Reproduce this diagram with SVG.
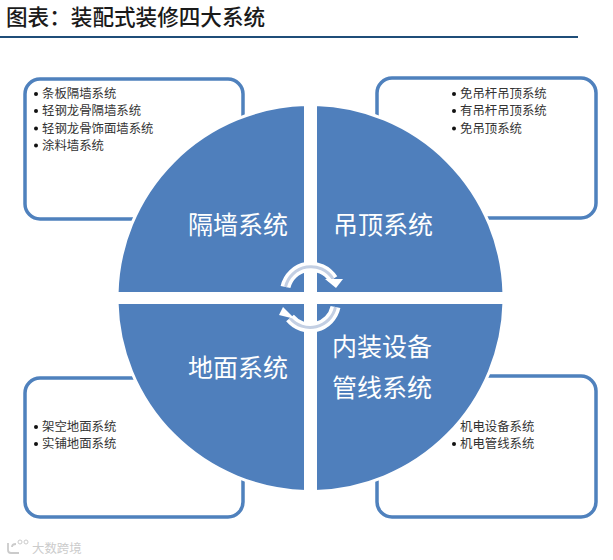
<svg xmlns="http://www.w3.org/2000/svg" width="613" height="560" viewBox="0 0 613 560">
<style>
text{font-family:"Noto Sans CJK SC","Noto Sans",sans-serif}
.box{fill:#fff;stroke:#4f81bd;stroke-width:3.5}
.wedge{fill:#4f7fbc;stroke:#fff;stroke-width:3}
.item{font-size:12.4px;fill:#333}
.big{font-size:25px;fill:#fff}
.dot{fill:#111}
.a1{fill:none;stroke:#fff;stroke-width:10}
.a2{fill:none;stroke:#c3cfe3;stroke-width:3}
.h{fill:#fff}
</style>
<rect width="613" height="560" fill="#fff"/>
<g id="title">
<text x="6" y="25" font-size="21.600" font-weight="500" fill="#1a1a1a">图表：装配式装修四大系统</text>
<rect x="0" y="36" width="578" height="2" fill="#1f4e79"/>
</g>
<g id="node-wall">
<rect class="box" x="25" y="79" width="218" height="140" rx="15"/>
<circle class="dot" cx="36" cy="94" r="2"/><circle class="dot" cx="36" cy="111" r="2"/><circle class="dot" cx="36" cy="128.500" r="2"/><circle class="dot" cx="36" cy="145.500" r="2"/>
<text class="item" x="42" y="98">条板隔墙系统</text>
<text class="item" x="42" y="115">轻钢龙骨隔墙系统</text>
<text class="item" x="42" y="132.500">轻钢龙骨饰面墙系统</text>
<text class="item" x="42" y="149.500">涂料墙系统</text>
<path class="wedge" d="M305.500 293.500H117.050A193.500 193.500 0 0 1 305.500 104.600Z"/>
<text class="big" x="188" y="234">隔墙系统</text>
</g>
<g id="node-ceiling">
<rect class="box" x="377" y="78" width="219" height="140" rx="15"/>
<circle class="dot" cx="454" cy="94" r="2"/><circle class="dot" cx="454" cy="111" r="2"/><circle class="dot" cx="454" cy="128.500" r="2"/>
<text class="item" x="460" y="98">免吊杆吊顶系统</text>
<text class="item" x="460" y="115">有吊杆吊顶系统</text>
<text class="item" x="460" y="132.500">免吊顶系统</text>
<path class="wedge" d="M315.500 293.500V104.600A193.500 193.500 0 0 1 503.950 293.500Z"/>
<text class="big" x="333" y="234">吊顶系统</text>
</g>
<g id="node-floor">
<rect class="box" x="25" y="378" width="218" height="139" rx="15"/>
<circle class="dot" cx="36" cy="427" r="2"/><circle class="dot" cx="36" cy="444" r="2"/>
<text class="item" x="42" y="431">架空地面系统</text>
<text class="item" x="42" y="448">实铺地面系统</text>
<path class="wedge" d="M305.500 302.500H117.050A193.500 193.500 0 0 0 305.500 491.400Z"/>
<text class="big" x="188" y="377">地面系统</text>
</g>
<g id="node-equipment">
<rect class="box" x="377" y="376" width="219" height="141" rx="15"/>
<circle class="dot" cx="454" cy="444" r="2"/>
<text class="item" x="460" y="431">机电设备系统</text>
<text class="item" x="460" y="448">机电管线系统</text>
<path class="wedge" d="M315.500 302.500V491.400A193.500 193.500 0 0 0 503.950 302.500Z"/>
<text class="big" x="332" y="356">内装设备</text>
<text class="big" x="332" y="397">管线系统</text>
</g>
<g id="connectors">
<path class="a1" d="M285.500 287A26 26 0 0 1 333 279"/>
<path class="a2" d="M285.500 287A26 26 0 0 1 333 279"/>
<path class="h" d="M325 279L343 279L336 288Z"/>
<path class="a1" d="M335.500 307A26 26 0 0 1 290 318"/>
<path class="a2" d="M335.500 307A26 26 0 0 1 290 318"/>
<path class="h" d="M295 319L279 315L283 307Z"/>
</g>
<g id="watermark" opacity="0.6">
<text x="32" y="553" font-size="12.400" fill="#aaa">大数跨境</text>
<path d="M8 543V550Q8 553 11 553H19M12 547Q12 544 16 544" fill="none" stroke="#aaa" stroke-width="1.800"/>
<circle cx="20" cy="542" r="2" fill="none" stroke="#aaa"/><circle cx="26" cy="542" r="2" fill="none" stroke="#aaa"/>
</g>
</svg>
